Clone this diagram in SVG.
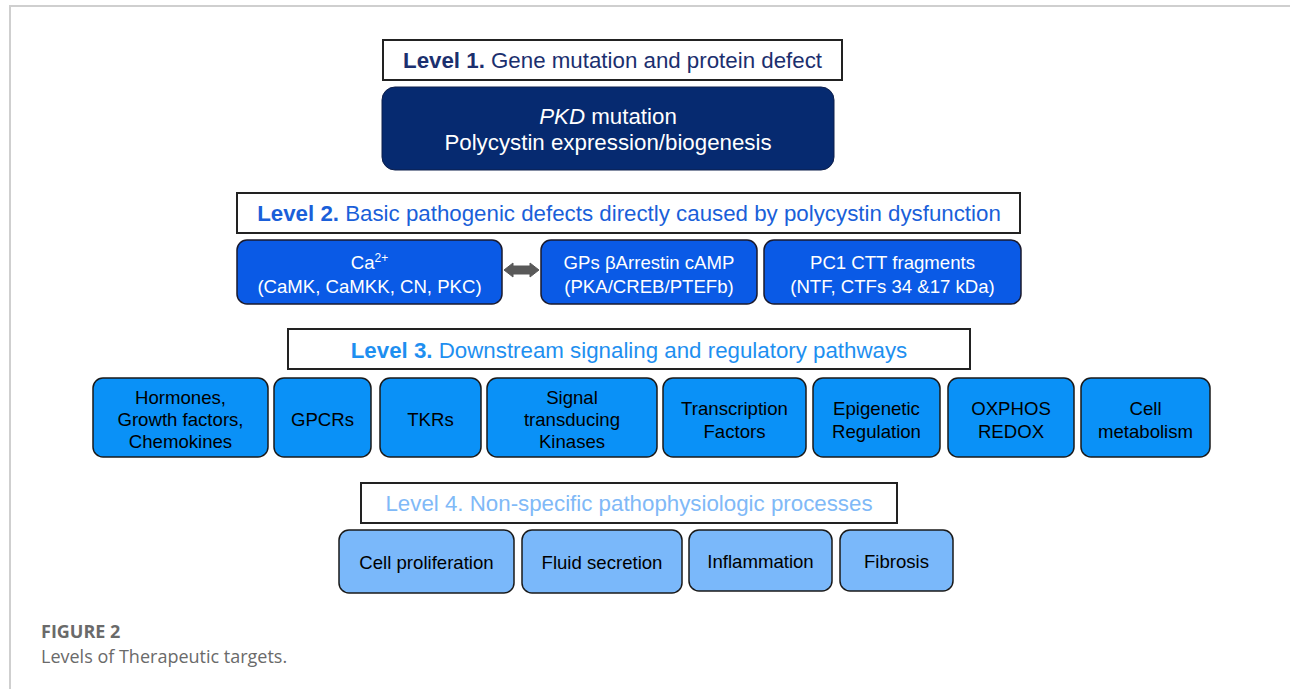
<svg xmlns="http://www.w3.org/2000/svg" width="1290" height="689" viewBox="0 0 1290 689">
<defs>
<style>
.frame{fill:none;stroke:#cfcfcf;stroke-width:2}
.hdr{fill:#fff;stroke:#222;stroke-width:2}
.t{font-family:"Liberation Sans",Arial,sans-serif;text-anchor:middle}
.h{font-size:22.3px}
.n{font-size:18.6px}
.l2{fill:#0a5ae6;stroke:#1a1a2e;stroke-width:1.5}
.l3{fill:#0a91f7;stroke:#1a1a1a;stroke-width:1.5}
.l4{fill:#7ab8fa;stroke:#1a1a1a;stroke-width:1.5}
.cap{font-family:"Open Sans","Liberation Sans",sans-serif;fill:#6a6a6a}
</style>
</defs>
<rect width="1290" height="689" fill="#fff"/>
<path class="frame" d="M1290 6 H10 V689"/>

<g id="level1">
<rect class="hdr" x="383" y="40" width="459" height="40"/>
<text class="t h" x="612.5" y="68" fill="#1b2f6e"><tspan font-weight="bold">Level 1.</tspan> Gene mutation and protein defect</text>
</g>
<g id="pkd">
<rect x="382" y="87" width="452" height="83" rx="13" fill="#062a70" stroke="#0d1e4a" stroke-width="1"/>
<text class="t h" x="608" y="124" fill="#fff"><tspan font-style="italic">PKD</tspan> mutation</text>
<text class="t h" x="608" y="150" fill="#fff">Polycystin expression/biogenesis</text>
</g>

<g id="level2">
<rect class="hdr" x="237" y="193" width="783" height="40"/>
<text class="t h" x="629" y="221" fill="#1a5fd9"><tspan font-weight="bold">Level 2.</tspan> Basic pathogenic defects directly caused by polycystin dysfunction</text>
</g>
<g id="ca">
<rect class="l2" x="237" y="240" width="265" height="64" rx="10"/>
<text class="t n" x="369.5" y="269" fill="#fff">Ca<tspan font-size="12" dy="-7">2+</tspan></text>
<text class="t n" x="369.5" y="293" fill="#fff">(CaMK, CaMKK, CN, PKC)</text>
</g>
<g id="gps">
<rect class="l2" x="541" y="240" width="216" height="64" rx="10"/>
<text class="t n" x="649" y="269" fill="#fff">GPs βArrestin cAMP</text>
<text class="t n" x="649" y="293" fill="#fff">(PKA/CREB/PTEFb)</text>
</g>
<g id="pc1">
<rect class="l2" x="764" y="240" width="257" height="64" rx="10"/>
<text class="t n" x="892.5" y="269" fill="#fff">PC1 CTT fragments</text>
<text class="t n" x="892.5" y="293" fill="#fff">(NTF, CTFs 34 &amp;17 kDa)</text>
</g>

<g id="level3">
<rect class="hdr" x="288" y="329" width="682" height="40"/>
<text class="t h" x="629" y="358" fill="#1e8ff0"><tspan font-weight="bold">Level 3.</tspan> Downstream signaling and regulatory pathways</text>
</g>
<g id="hormones">
<rect class="l3" x="93" y="378" width="175" height="79" rx="10"/>
<text class="t n" x="180.5" y="404">Hormones,</text>
<text class="t n" x="180.5" y="426">Growth factors,</text>
<text class="t n" x="180.5" y="448">Chemokines</text>
</g>
<g id="gpcrs">
<rect class="l3" x="274" y="378" width="97" height="79" rx="10"/>
<text class="t n" x="322.5" y="426">GPCRs</text>
</g>
<g id="tkrs">
<rect class="l3" x="380" y="378" width="101" height="79" rx="10"/>
<text class="t n" x="430.5" y="426">TKRs</text>
</g>
<g id="kinases">
<rect class="l3" x="487" y="378" width="170" height="79" rx="10"/>
<text class="t n" x="572" y="404">Signal</text>
<text class="t n" x="572" y="426">transducing</text>
<text class="t n" x="572" y="448">Kinases</text>
</g>
<g id="tf">
<rect class="l3" x="663" y="378" width="143" height="79" rx="10"/>
<text class="t n" x="734.5" y="415">Transcription</text>
<text class="t n" x="734.5" y="438">Factors</text>
</g>
<g id="epi">
<rect class="l3" x="813" y="378" width="127" height="79" rx="10"/>
<text class="t n" x="876.5" y="415">Epigenetic</text>
<text class="t n" x="876.5" y="438">Regulation</text>
</g>
<g id="oxphos">
<rect class="l3" x="948" y="378" width="126" height="79" rx="10"/>
<text class="t n" x="1011" y="415">OXPHOS</text>
<text class="t n" x="1011" y="438">REDOX</text>
</g>
<g id="metab">
<rect class="l3" x="1081" y="378" width="129" height="79" rx="10"/>
<text class="t n" x="1145.5" y="415">Cell</text>
<text class="t n" x="1145.5" y="438">metabolism</text>
</g>

<g id="level4">
<rect class="hdr" x="361" y="483" width="536" height="40"/>
<text class="t h" x="629" y="511" fill="#80b9f7">Level 4. Non-specific pathophysiologic processes</text>
</g>
<g id="prolif">
<rect class="l4" x="339" y="530" width="175" height="63" rx="10"/>
<text class="t n" x="426.5" y="569">Cell proliferation</text>
</g>
<g id="fluid">
<rect class="l4" x="522" y="530" width="160" height="63" rx="10"/>
<text class="t n" x="602" y="569">Fluid secretion</text>
</g>
<g id="inflam">
<rect class="l4" x="689" y="530" width="143" height="61" rx="10"/>
<text class="t n" x="760.5" y="568">Inflammation</text>
</g>
<g id="fibrosis">
<rect class="l4" x="840" y="530" width="113" height="61" rx="10"/>
<text class="t n" x="896.5" y="568">Fibrosis</text>
</g>

<g id="connectors">
<path d="M504 270 L513 263 L513 266 L530 266 L530 263 L539 270 L530 277 L530 274 L513 274 L513 277 Z" fill="#595959" stroke="#595959" stroke-width="1" stroke-linejoin="round"/>
</g>

<g id="caption">
<text class="cap" x="41" y="638" font-size="18" font-weight="bold">FIGURE 2</text>
<text class="cap" x="41" y="663" font-size="18">Levels of Therapeutic targets.</text>
</g>
</svg>
